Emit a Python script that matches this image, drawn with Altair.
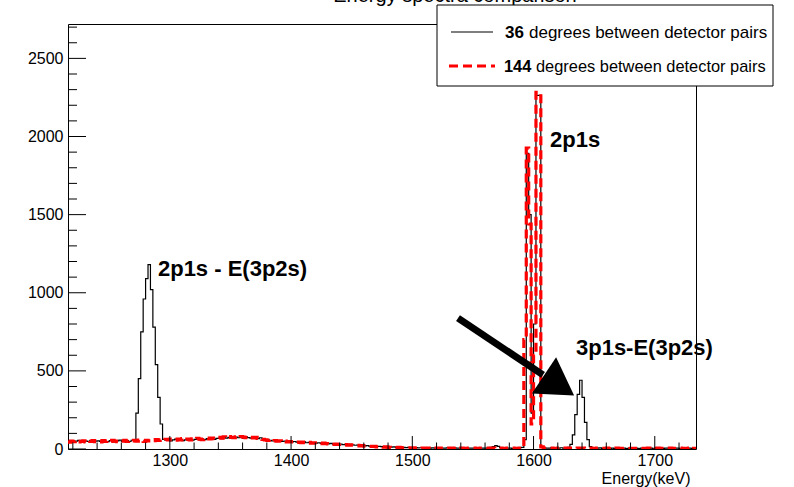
import altair as alt
import pandas as pd

FONT = "Liberation Sans"

# Histogram binning (keV)
E_START = 1216
BIN_W = 2

# 36 degrees between detector pairs (counts per 2 keV bin, 1216-1734 keV)
black_counts = (
    [48, 52, 45, 50, 55, 47, 44, 51, 49, 53, 46, 50, 52, 48, 55, 49, 47, 53, 50, 46, 52, 57, 49, 51, 54, 48, 56]
    + [58, 230, 450, 750, 960, 1090, 1180, 1020, 780, 540, 330, 160, 62]
    + [55, 60, 52, 58, 63, 57, 61, 54, 59, 64, 60, 56, 62, 66, 58, 63, 60, 67, 62, 65, 61, 68]
    + [70, 66, 73, 69, 75, 71, 68, 76, 72, 74, 70, 77, 73, 69, 75, 71, 67, 72, 64, 60]
    + [58, 55, 52, 56, 50, 53, 48, 51, 47, 49]
    + [46, 48, 44, 45, 42, 46, 40, 43, 39, 41, 38, 40, 36, 38, 35, 33, 36, 31, 33, 30, 32, 28, 30, 27, 29]
    + [26, 24, 25, 22, 23, 20, 21, 19, 18, 20, 16, 17, 15, 14, 15, 13, 12, 13, 11, 12, 10, 11, 9, 10, 9]
    + [8, 9, 7, 8, 6, 7, 8, 6, 7, 5, 6, 7, 5, 6, 8, 5, 6, 7, 5, 6, 4, 5, 7, 5, 6, 5, 6, 4, 5, 6,
       5, 7, 10, 16, 21, 17, 9, 5, 4, 6, 5, 4, 6, 5, 8]
    + [10, 60, 1892, 1500, 230, 800, 2263, 2263, 16, 7]
    + [6, 5, 7, 4, 6, 5, 8, 6, 7]
    + [10, 30, 90, 220, 350, 440, 330, 170, 60, 15]
    + [8, 6, 5, 7, 4, 6, 5, 3, 6, 4, 5, 7, 4, 5, 3, 6, 4, 5, 6, 3, 5, 4, 6, 3, 5, 4, 5, 7, 3, 4,
       6, 5, 3, 4, 5, 6, 4, 3, 5, 4, 6, 3, 4]
)

# 144 degrees between detector pairs
red_counts = (
    [44, 50, 47, 53, 46, 49, 52, 45, 51, 48, 54, 47, 50, 46, 53, 49, 52, 48, 55, 50, 47, 53, 51, 56, 49, 54, 52]
    + [55, 50, 57, 53, 49, 56, 52, 58, 54, 60, 55, 59, 57]
    + [62, 58, 64, 60, 57, 63, 59, 66, 61, 64, 58, 65, 62, 68, 63, 60, 66, 69, 64, 70, 67, 72]
    + [74, 70, 77, 73, 79, 75, 72, 78, 74, 80, 76, 73, 79, 75, 71, 74, 68, 65, 61, 58]
    + [55, 57, 52, 54, 50, 52, 48, 50, 46, 48]
    + [45, 47, 43, 44, 41, 44, 39, 42, 38, 40, 37, 39, 35, 37, 34, 32, 34, 30, 32, 29, 30, 27, 28, 25, 26]
    + [24, 22, 23, 20, 21, 18, 19, 17, 16, 17, 14, 15, 13, 12, 13, 11, 10, 11, 9, 10, 8, 9, 8, 7, 8]
    + [7, 6, 7, 5, 6, 5, 6, 4, 5, 6, 5, 4, 6, 5, 4, 5, 6, 4, 5, 4, 5, 3, 4, 5, 4, 5, 4, 3, 5, 4,
       5, 4, 5, 6, 5, 4, 5, 3, 4, 5, 4, 5, 3, 4, 6]
    + [6, 700, 1925, 1440, 160, 600, 2282, 2282, 14, 5]
    + [5, 4, 5, 3, 4, 5, 4, 3, 5]
    + [4, 5, 3, 4, 5, 4, 5, 3, 4, 5]
    + [4, 3, 5, 4, 3, 4, 5, 3, 4, 3, 5, 4, 3, 4, 5, 3, 4, 4, 3, 5, 4, 3, 4, 5, 3, 4, 3, 5, 4, 3,
       4, 4, 5, 3, 4, 3, 5, 4, 3, 4, 5, 3, 4]
)

# Axis ticks
x_major = [1300, 1400, 1500, 1600, 1700]
x_minor = [e for e in range(1220, 1734, 20) if e % 100]
y_major = [0, 500, 1000, 1500, 2000, 2500]
y_minor = [c for c in range(100, 2720, 100) if c % 500]

# Peak labels (left edge, baseline)
peak_labels = ["2p1s - E(3p2s)", "2p1s", "3p1s-E(3p2s)"]
peak_label_energy = [1290.2, 1613.6, 1635.0]
peak_label_counts = [1107, 1933, 602]

# Arrow pointing at the 3p1s peak
arrow_start = (1537.7, 838)
arrow_end = (1607.8, 474)
arrow_head = (1618.5, 420)

X_DOM = [1216, 1734]
Y_DOM = [0, 2720]
W, H = 628, 425


def hist_frame(counts):
    edges = [E_START + BIN_W * i for i in range(len(counts) + 1)]
    return pd.DataFrame({"energy": edges, "counts": counts + [counts[-1]]})


xs = alt.Scale(domain=X_DOM, nice=False, zero=False)
ys = alt.Scale(domain=Y_DOM, nice=False)

x_axis = alt.Axis(
    values=x_major, format="d", ticks=False, domain=False, grid=False,
    labelFont=FONT, labelFontSize=16, labelColor="black", labelPadding=3,
    title="Energy(keV)", titleFont=FONT, titleFontSize=16, titleFontWeight="normal",
    titleColor="black", titleX=622, titleY=34, titleAlign="right", titleBaseline="alphabetic",
)
y_axis = alt.Axis(
    values=y_major, format="d", ticks=False, domain=False, grid=False,
    labelFont=FONT, labelFontSize=16, labelColor="black", labelPadding=5, title=None,
)

black_line = alt.Chart(hist_frame(black_counts)).mark_line(
    interpolate="step-after", color="black", strokeWidth=1.2, clip=True
).encode(
    x=alt.X("energy:Q", scale=xs, axis=x_axis),
    y=alt.Y("counts:Q", scale=ys, axis=y_axis),
)

red_line = alt.Chart(hist_frame(red_counts)).mark_line(
    interpolate="step-after", color="#ff0000", strokeWidth=3.2, strokeDash=[9, 5], clip=True
).encode(x="energy:Q", y="counts:Q")

# Inward-pointing ticks
xmaj = alt.Chart(pd.DataFrame({"energy": x_major})).mark_rule(color="black").encode(
    x="energy:Q", y=alt.value(H), y2=alt.value(H - 13))
xmin = alt.Chart(pd.DataFrame({"energy": x_minor})).mark_rule(color="black").encode(
    x="energy:Q", y=alt.value(H), y2=alt.value(H - 6.5))
ymaj = alt.Chart(pd.DataFrame({"counts": y_major})).mark_rule(color="black").encode(
    y="counts:Q", x=alt.value(0), x2=alt.value(18))
ymin = alt.Chart(pd.DataFrame({"counts": y_minor})).mark_rule(color="black").encode(
    y="counts:Q", x=alt.value(0), x2=alt.value(9))

labels = alt.Chart(pd.DataFrame({
    "label": peak_labels, "energy": peak_label_energy, "counts": peak_label_counts
})).mark_text(
    align="left", baseline="alphabetic", font=FONT, fontSize=22, fontWeight="bold", color="black"
).encode(x="energy:Q", y="counts:Q", text="label:N")

arrow_df = pd.DataFrame({
    "e0": [arrow_start[0]], "c0": [arrow_start[1]],
    "e1": [arrow_end[0]], "c1": [arrow_end[1]],
})
arrow_shaft = alt.Chart(arrow_df).mark_rule(color="black", strokeWidth=7).encode(
    x="e0:Q", y="c0:Q", x2="e1:Q", y2="c1:Q")
arrow_tip = alt.Chart(pd.DataFrame({"energy": [arrow_head[0]], "counts": [arrow_head[1]]})).mark_point(
    shape="M 1 0 L -0.66 -1 L -0.66 1 Z", filled=True, size=1900, angle=33.7,
    color="black", opacity=1, strokeWidth=0,
).encode(x="energy:Q", y="counts:Q")

# Title, partly hidden above the frame
title = alt.Chart(pd.DataFrame({"t": ["Energy spectra comparison"]})).mark_text(
    align="center", baseline="alphabetic", font=FONT, fontSize=20, color="black"
).encode(x=alt.value(387), y=alt.value(-22), text="t:N")

# Legend box
legend_box = alt.Chart(pd.DataFrame({"a": [0]})).mark_rect(
    fill="white", stroke="black", strokeWidth=1
).encode(x=alt.value(369), x2=alt.value(705), y=alt.value(-19), y2=alt.value(62))
leg_black = alt.Chart(pd.DataFrame({"a": [0]})).mark_rule(color="black", strokeWidth=1.2).encode(
    x=alt.value(383), x2=alt.value(425), y=alt.value(8))
leg_red = alt.Chart(pd.DataFrame({"a": [0]})).mark_rule(
    color="#ff0000", strokeWidth=3.2, strokeDash=[9, 5]).encode(
    x=alt.value(381), x2=alt.value(427), y=alt.value(42))

legend_rows = pd.DataFrame({
    "num": ["36", "144"],
    "rest": ["degrees between detector pairs", "degrees between detector pairs"],
})
leg_num1 = alt.Chart(legend_rows.iloc[[0]]).mark_text(
    align="left", baseline="alphabetic", font=FONT, fontSize=17, fontWeight="bold", color="black"
).encode(x=alt.value(437), y=alt.value(14), text="num:N")
leg_txt1 = alt.Chart(legend_rows.iloc[[0]]).mark_text(
    align="left", baseline="alphabetic", font=FONT, fontSize=17, color="black"
).encode(x=alt.value(461), y=alt.value(14), text="rest:N")
leg_num2 = alt.Chart(legend_rows.iloc[[1]]).mark_text(
    align="left", baseline="alphabetic", font=FONT, fontSize=16.4, fontWeight="bold", color="black"
).encode(x=alt.value(436), y=alt.value(48), text="num:N")
leg_txt2 = alt.Chart(legend_rows.iloc[[1]]).mark_text(
    align="left", baseline="alphabetic", font=FONT, fontSize=16.4, color="black"
).encode(x=alt.value(468), y=alt.value(48), text="rest:N")

chart = alt.layer(
    black_line, red_line, xmaj, xmin, ymaj, ymin, labels, arrow_shaft, arrow_tip,
    title, legend_box, leg_black, leg_red, leg_num1, leg_txt1, leg_num2, leg_txt2,
).properties(
    width=W, height=H,
    autosize=alt.AutoSizeParams(type="none"),
    padding={"left": 68, "top": 24, "right": 98, "bottom": 38},
    background="white",
).configure_view(stroke="black", strokeWidth=1)

chart.save("out.html", embed_options={"renderer": "svg", "actions": False})
